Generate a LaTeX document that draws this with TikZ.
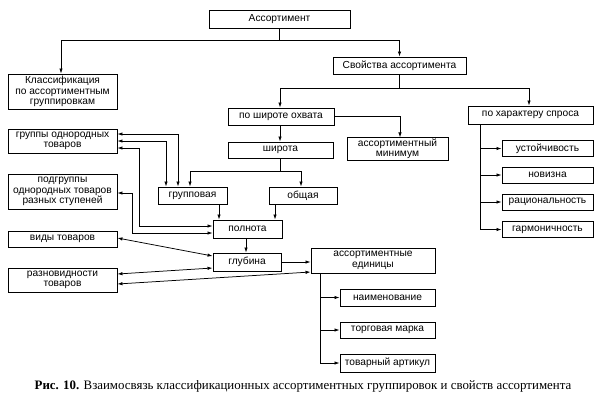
\documentclass[tikz,border=0pt]{standalone}
\usepackage{fontspec}
\setmainfont{Liberation Serif}
\newfontfamily\boxfont{Liberation Sans}
\usetikzlibrary{arrows.meta,calc}
\tikzset{
  bx/.style={draw, line width=0.9pt, inner sep=1pt, align=center,
    font=\boxfont\fontsize{10.2}{10.5}\selectfont},
  conn/.style={line width=0.75pt},
  arr/.style={conn, -{Latex[length=5pt,width=3.4pt]}},
  arrb/.style={conn, {Latex[length=5pt,width=3.4pt]}-{Latex[length=5pt,width=3.4pt]}}
}
\begin{document}
\begin{tikzpicture}[x=1pt,y=-1pt]
\useasboundingbox[fill=white] (0,0) rectangle (601,408);
% boxes
\node[bx, minimum width=141pt, minimum height=18pt] (assort) at (279.5,19) {Ассортимент};
\node[bx, minimum width=109pt, minimum height=35pt] (klass) at (62.5,91.5) {Классификация\\по ассортиментным\\группировкам};
\node[bx, minimum width=133pt, minimum height=17pt] (svoj) at (399.5,65.5) {Свойства ассортимента};
\node[bx, minimum width=106pt, minimum height=17pt] (ohv) at (281,116.5) {по широте охвата};
\node[bx, minimum width=125pt, minimum height=18pt] (har) at (530.5,115) {по характеру спроса};
\node[bx, minimum width=101pt, minimum height=22pt] (mini) at (397.5,149) {ассортиментный\\минимум};
\node[bx, minimum width=105pt, minimum height=16pt] (shir) at (280.5,150) {широта};
\node[bx, minimum width=69pt, minimum height=17pt] (grp) at (192.5,195.5) {групповая};
\node[bx, minimum width=68pt, minimum height=17pt] (obsh) at (303,195.5) {общая};
\node[bx, minimum width=69pt, minimum height=18pt] (poln) at (247.5,229) {полнота};
\node[bx, minimum width=68pt, minimum height=18pt] (glub) at (247,262) {глубина};
\node[bx, minimum width=124pt, minimum height=25pt] (edin) at (373,260.5) {ассортиментные\\единицы};
\node[bx, minimum width=109pt, minimum height=24pt] (gruppy) at (62.5,141) {группы однородных\\товаров};
\node[bx, minimum width=109pt, minimum height=35pt] (podgr) at (62.5,191.5) {подгруппы\\однородных товаров\\разных ступеней};
\node[bx, minimum width=109pt, minimum height=16pt] (vidy) at (62.5,239) {виды товаров};
\node[bx, minimum width=109pt, minimum height=24pt] (razn) at (62.5,280) {разновидности\\товаров};
\node[bx, minimum width=91pt, minimum height=16pt] (ust) at (547.5,148.5) {устойчивость};
\node[bx, minimum width=91pt, minimum height=16pt] (nov) at (547.5,175) {новизна};
\node[bx, minimum width=91pt, minimum height=16pt] (rac) at (547.5,202) {рациональность};
\node[bx, minimum width=91pt, minimum height=16pt] (garm) at (547.5,229.5) {гармоничность};
\node[bx, minimum width=95pt, minimum height=17pt] (naim) at (387.5,297.5) {наименование};
\node[bx, minimum width=95pt, minimum height=16pt] (torg) at (387.5,330) {торговая марка};
\node[bx, minimum width=95pt, minimum height=18pt] (art) at (387.5,363) {товарный артикул};
% caption
\node[font=\fontsize{12.9}{14}\selectfont] (cap) at (303,386) {\textbf{Рис. 10.} Взаимосвязь классификационных ассортиментных группировок и свойств ассортимента};
% connectors
\draw[arr] (assort.south) -- ++(0,12) -| ([xshift=-1.5pt]klass.north);
\draw[arr] (assort.south) -- ++(0,12) -| (svoj.north);
\draw[arr] (svoj.south) -- ++(0,14) -| ([xshift=-1pt]ohv.north);
\draw[arr] (svoj.south) -- ++(0,14) -| ([xshift=-1.5pt]har.north);
\draw[arr] (ohv.east) -| ([xshift=2.5pt]mini.north);
\draw[arr] ([xshift=-1pt]ohv.south) -- ([xshift=-1pt]ohv.south |- shir.north);
\draw[arr] (shir.south) -- ++(0,13) -| ([xshift=-2.5pt]grp.north);
\draw[arr] (shir.south) -- ++(0,13) -| ([xshift=-2pt]obsh.north);
\draw[arr] ([xshift=26.5pt]grp.south) -- ([xshift=26.5pt]grp.south |- poln.north);
\draw[arr] ([xshift=-28pt]obsh.south) -- ([xshift=-28pt]obsh.south |- poln.north);
\draw[arr] ([xshift=-1.5pt]poln.south) -- ([xshift=-1.5pt]poln.south |- glub.north);
\draw[arr] (glub.east) -- (glub.east -| edin.west);
\draw[arrb] ([yshift=7pt]gruppy.east) -| ([xshift=-14.5pt]grp.north);
\draw[arrb] (gruppy.east) -| ([xshift=-26.5pt]grp.north);
\draw[arrb] ([yshift=-7pt]gruppy.east) -- ++(22,0) |- ([yshift=3pt]poln.west);
\draw[arrb] ([yshift=-1.5pt]podgr.east) -- ++(15,0) |- ([yshift=-4pt]poln.west);
\draw[arrb] ([yshift=1pt]vidy.east) -- ([yshift=6pt]glub.west);
\draw[arrb] ([yshift=6pt]razn.east) -- ([yshift=-6pt]glub.west);
\draw[arrb] ([yshift=-4pt]razn.east) -- ([yshift=-11.5pt]edin.west);
% character branches
\coordinate (hk) at ([xshift=-50.5pt]har.south);
\draw[arr] (hk) |- (garm.west);
\foreach \b in {ust,nov,rac} \draw[arr] (hk |- \b.west) -- (\b.west);
% units branches
\coordinate (ek) at ([xshift=-53pt]edin.south);
\draw[arr] (ek) |- (art.west);
\foreach \b in {naim,torg} \draw[arr] (ek |- \b.west) -- (\b.west);
\end{tikzpicture}
\end{document}
